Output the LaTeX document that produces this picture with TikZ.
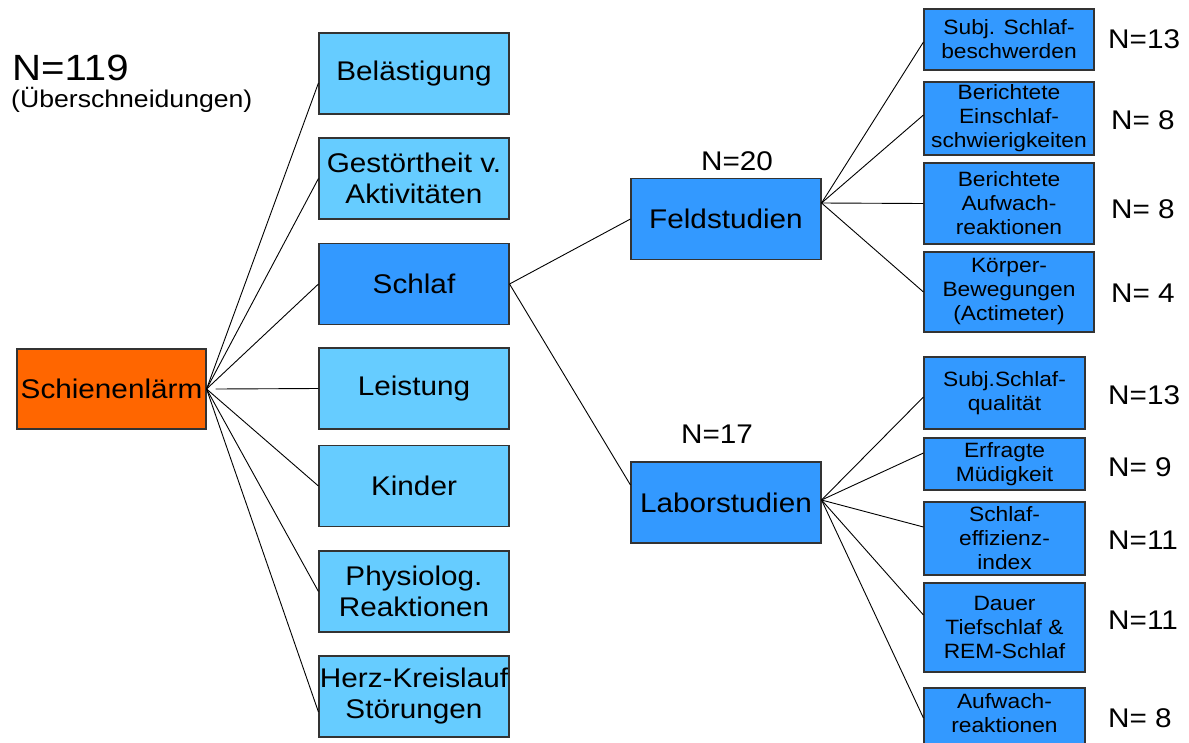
\documentclass[tikz,border=0pt]{standalone}
\usepackage{fontspec}
\setmainfont{Liberation Sans}[FakeStretch=1.1]
\definecolor{paleblue}{HTML}{66CCFF}
\definecolor{deepblue}{HTML}{3399FF}
\definecolor{railorange}{HTML}{FF6600}
\begin{document}
\begin{tikzpicture}[x=1pt,y=-1pt,
  box/.style={draw=black!80, line width=1.1pt, rectangle, inner sep=0pt, align=center, text=black},
  bigbox/.style={box, font=\fontsize{27}{31}\selectfont, minimum width=190pt, minimum height=81pt},
  topic/.style={bigbox, fill=paleblue},
  study/.style={bigbox, fill=deepblue},
  fieldbox/.style={box, fill=deepblue, font=\fontsize{20.7}{24}\selectfont, minimum width=170pt},
  labbox/.style={box, fill=deepblue, font=\fontsize{20.7}{24}\selectfont, minimum width=161pt},
  count/.style={inner sep=0pt, font=\fontsize{27}{31}\selectfont},
  link/.style={draw=black, line width=0.9pt}
]
\useasboundingbox (0,0) rectangle (1189,742);

% headline
\node[inner sep=0pt, anchor=base west, font=\fontsize{36.5}{40}\selectfont] (total) at (12,80) {N=119};
\node[inner sep=0pt, anchor=base west, font=\fontsize{24.2}{28}\selectfont] (overlap) at (11,107) {(Überschneidungen)};

% root
\node[bigbox, fill=railorange, minimum width=189pt, minimum height=80pt] (rail) at (111.5,389) {Schienenlärm};

% topics
\node[topic] (bel) at (414,73.5) {Belästigung};
\node[topic] (ges) at (414,178.5) {Gestörtheit v.\\Aktivitäten};
\node[study] (schlaf) at (414,284) {Schlaf};
\node[topic] (leist) at (414,388.5) {Leistung};
\node[topic] (kinder) at (414,486) {Kinder};
\node[topic] (phys) at (414,591.5) {Physiolog.\\Reaktionen};
\node[topic] (herz) at (414,696.5) {Herz-Kreislauf\\Störungen};

% study types
\node[study] (feld) at (726,219) {Feldstudien};
\node[study] (labor) at (726,502.5) {Laborstudien};
\node[count] (nfeld) at (737,161) {N=20};
\node[count] (nlabor) at (717,434) {N=17};

% field study outcomes
\node[fieldbox, minimum height=61pt] (f1) at (1009,39.5) {Subj. Schlaf-\\beschwerden};
\node[fieldbox, minimum height=73pt] (f2) at (1009,118.5) {Berichtete\\Einschlaf-\\schwierigkeiten};
\node[fieldbox, minimum height=81pt] (f3) at (1009,203.5) {Berichtete\\Aufwach-\\reaktionen};
\node[fieldbox, minimum height=80pt] (f4) at (1009,292) {Körper-\\Bewegungen\\(Actimeter)};
\node[count, anchor=west] (nf1) at (1108,39) {N=13};
\node[count, anchor=west] (nf2) at (1111,120) {N= 8};
\node[count, anchor=west] (nf3) at (1111,209) {N= 8};
\node[count, anchor=west] (nf4) at (1111,293) {N= 4};

% lab study outcomes
\node[labbox, minimum height=72pt] (l1) at (1004.5,393) {Subj.Schlaf-\\qualität};
\node[labbox, minimum height=52pt] (l2) at (1004.5,464) {Erfragte\\Müdigkeit};
\node[labbox, minimum height=73pt] (l3) at (1004.5,538.5) {Schlaf-\\effizienz-\\index};
\node[labbox, minimum height=89pt] (l4) at (1004.5,627.5) {Dauer\\Tiefschlaf \&\\REM-Schlaf};
\node[labbox, minimum height=80pt, text depth=30pt] (l5) at (1004.5,728) {Aufwach-\\reaktionen};
\node[count, anchor=west] (nl1) at (1108,395) {N=13};
\node[count, anchor=west] (nl2) at (1108,467) {N= 9};
\node[count, anchor=west] (nl3) at (1108,540) {N=11};
\node[count, anchor=west] (nl4) at (1108,620) {N=11};
\node[count, anchor=west] (nl5) at (1108,718) {N= 8};

% connectors from the root
\draw[link] (rail.east) -- ([yshift=-9.5pt]bel.west);
\draw[link] (rail.east) -- (ges.west);
\draw[link] (rail.east) -- (schlaf.west);
\draw[link] ([xshift=9pt]rail.east) -- (leist.west);
\draw[link] (rail.east) -- (kinder.west);
\draw[link] (rail.east) -- (phys.west);
\draw[link] (rail.east) -- ([yshift=-15.5pt]herz.west);

% sleep branches
\draw[link] (schlaf.east) -- (feld.west);
\draw[link] (schlaf.east) -- ([yshift=17.5pt]labor.west);

% field study branches
\coordinate (ffan) at ([yshift=16pt]feld.east);
\draw[link] (ffan) -- ([yshift=-2.5pt]f1.west);
\draw[link] (ffan) -- ([yshift=3.5pt]f2.west);
\draw[link] (ffan) -- (f3.west);
\draw[link] (ffan) -- (f4.west);

% lab study branches
\coordinate (lfan) at ([yshift=2.5pt]labor.east);
\draw[link] (lfan) -- ([yshift=-4pt]l1.west);
\draw[link] (lfan) -- ([yshift=11pt]l2.west);
\draw[link] (lfan) -- ([yshift=11.5pt]l3.west);
\draw[link] (lfan) -- ([yshift=12.5pt]l4.west);
\draw[link] (lfan) -- ([yshift=10pt]l5.west);
\end{tikzpicture}
\end{document}
